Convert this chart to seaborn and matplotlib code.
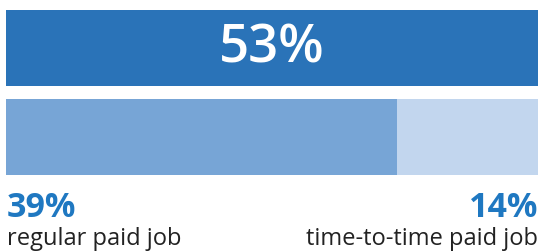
import pandas as pd
import seaborn as sns
import matplotlib.pyplot as plt

# data
total_label = "53%"
total_value = 53
regular_value = 39
occasional_value = 14
regular_text = "regular paid job"
occasional_text = "time-to-time paid job"

dark = "#2a73b8"
mid = "#77a5d6"
light = "#c2d6ee"
text_blue = "#1f78c1"

sns.set_theme(style="white")
plt.rcParams['font.family'] = ['Open Sans', 'DejaVu Sans']

fig = plt.figure(figsize=(5.39, 2.53), dpi=100)
ax = fig.add_axes([6 / 539, 0, 532 / 539, 1])

df = pd.DataFrame({"row": ["total", "split"],
                   "value": [total_value, regular_value + occasional_value]})
sns.barplot(data=df, x="value", y="row", orient="h", ax=ax,
            palette=[dark, light], hue="row", legend=False, width=0.854,
            saturation=1, linewidth=0)
df2 = pd.DataFrame({"row": ["total", "split"], "value": [0, regular_value]})
sns.barplot(data=df2, x="value", y="row", orient="h", ax=ax,
            color=mid, width=0.854, saturation=1, linewidth=0)

ax.set_xlim(0, total_value)
ax.set_ylim(2.292, -0.5506)
ax.axis("off")

ax.text(total_value / 2, 0.0, total_label, color="white", fontsize=38,
        fontweight="semibold", ha="center", va="center")
ax.text(0.1, 1.888, f"{regular_value}%", color=text_blue, fontsize=24.5,
        fontweight="bold", ha="left", va="baseline")
ax.text(0.1, 2.202, regular_text, color="#222222", fontsize=17,
        ha="left", va="baseline")
ax.text(total_value, 1.888, f"{occasional_value}%", color=text_blue,
        fontsize=24.5, fontweight="bold", ha="right", va="baseline")
ax.text(total_value, 2.202, occasional_text, color="#222222", fontsize=17,
        ha="right", va="baseline")

fig.savefig("out.png", dpi=100)
